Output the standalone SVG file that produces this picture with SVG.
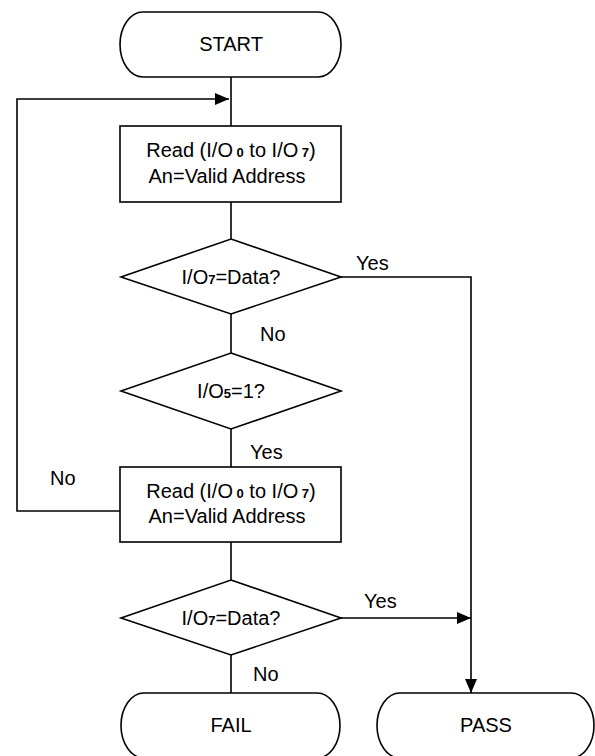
<svg xmlns="http://www.w3.org/2000/svg" width="595" height="756" viewBox="0 0 595 756">
<defs>
<marker id="ah" markerWidth="14" markerHeight="12" refX="14" refY="6" orient="auto" markerUnits="userSpaceOnUse"><path d="M0,0 L14,6 L0,12 z" fill="#000"/></marker>
</defs>
<style>
.s{fill:#fff;stroke:#000;stroke-width:1.6}
.c{fill:none;stroke:#000;stroke-width:1.6}
text{font-family:"Liberation Sans",Arial,sans-serif;font-size:20px;fill:#000}
.m{text-anchor:middle}
.sub{font-size:13px;font-weight:bold}
</style>
<rect width="595" height="756" fill="#fff"/>
<g id="connectors">
<path class="c" d="M231,77 V126"/>
<path class="c" d="M120,511 H17 V99 H229" marker-end="url(#ah)"/>
<path class="c" d="M231,202 V239"/>
<path class="c" d="M341,277 H471 V693" marker-end="url(#ah)"/>
<path class="c" d="M231,314 V353"/>
<path class="c" d="M231,429 V467"/>
<path class="c" d="M231,542 V580"/>
<path class="c" d="M341,618 H471" marker-end="url(#ah)"/>
<path class="c" d="M231,655 V693"/>
<text x="356" y="270">Yes</text>
<text x="260" y="341">No</text>
<text x="250" y="459">Yes</text>
<text x="50" y="485">No</text>
<text x="364" y="608">Yes</text>
<text x="253" y="681">No</text>
</g>
<g id="start">
<path class="s" d="M143,12 H318 A23,32.5 0 0 1 318,77 H143 A23,32.5 0 0 1 143,12 Z"/>
<text x="231" y="51" class="m">START</text>
</g>
<g id="read1">
<rect class="s" x="120" y="126" width="221" height="76"/>
<text x="231" y="157" class="m">Read (I/O<tspan class="sub"> 0</tspan> to I/O<tspan class="sub"> 7</tspan>)</text>
<text x="227" y="183" class="m">An=Valid Address</text>
</g>
<g id="check1">
<polygon class="s" points="231,239 341,277 231,314 121,277"/>
<text x="231" y="284" class="m">I/O<tspan class="sub">7</tspan>=Data?</text>
</g>
<g id="check5">
<polygon class="s" points="231,353 341,391 231,429 121,391"/>
<text x="231" y="398" class="m">I/O<tspan class="sub">5</tspan>=1?</text>
</g>
<g id="read2">
<rect class="s" x="120" y="467" width="221" height="75"/>
<text x="231" y="498" class="m">Read (I/O<tspan class="sub"> 0</tspan> to I/O<tspan class="sub"> 7</tspan>)</text>
<text x="227" y="523" class="m">An=Valid Address</text>
</g>
<g id="check2">
<polygon class="s" points="231,580 341,618 231,655 121,618"/>
<text x="231" y="625" class="m">I/O<tspan class="sub">7</tspan>=Data?</text>
</g>
<g id="fail">
<path class="s" d="M144,693 H317 A23,32.5 0 0 1 317,758 H144 A23,32.5 0 0 1 144,693 Z"/>
<text x="231" y="732" class="m">FAIL</text>
</g>
<g id="pass">
<path class="s" d="M400,693 H571 A23,32.5 0 0 1 571,758 H400 A23,32.5 0 0 1 400,693 Z"/>
<text x="486" y="732" class="m">PASS</text>
</g>
</svg>
